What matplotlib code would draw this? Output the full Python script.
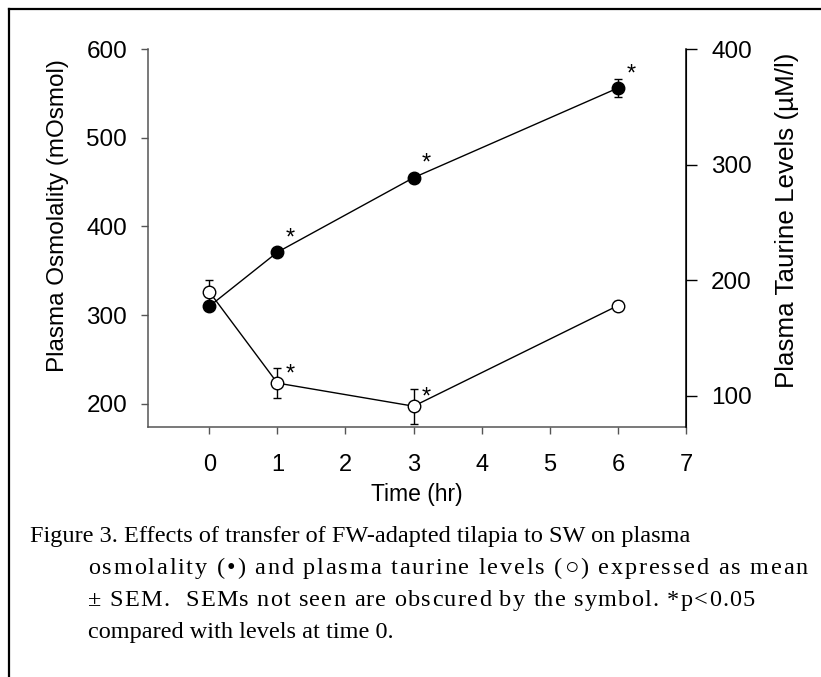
import matplotlib
matplotlib.use("Agg")
import matplotlib.pyplot as plt
from matplotlib import font_manager
from matplotlib.ft2font import FT2Font
from matplotlib.lines import Line2D

# time after transfer (hr)
time_hr = [0, 1, 3, 6]

# plasma osmolality (mOsmol), mean and SEM
osmo_mean = [310, 371, 455, 556]
osmo_sem = [4, 4, 4, 10]
osmo_sig = [False, True, True, True]

# plasma taurine (uM/l), mean and SEM
taurine_mean = [190, 111, 91, 178]
taurine_sem = [10, 13, 15, 4]
taurine_sig = [False, True, True, False]

x_ticks = [0, 1, 2, 3, 4, 5, 6, 7]
left_ticks = [200, 300, 400, 500, 600]
right_ticks = [100, 200, 300, 400]

caption = [
    "Figure 3. Effects of transfer of FW-adapted tilapia to SW on plasma",
    "osmolality (\u2022) and plasma taurine levels (\u25cb) expressed as mean",
    "\u00b1 SEM.  SEMs not seen are obscured by the symbol. *p<0.05",
    "compared with levels at time 0.",
]

plt.rcParams["font.family"] = ["Liberation Sans", "DejaVu Sans"]

W, H = 821, 677
fig = plt.figure(figsize=(W / 100, H / 100), dpi=100)

# axes box in pixels: left 148, right 686, top 49, bottom 427
ax = fig.add_axes([148 / W, 1 - 427 / H, (686 - 148) / W, (427 - 49) / H])
ax2 = ax.twinx()

ax.errorbar(time_hr, osmo_mean, yerr=osmo_sem, color="black", lw=1,
            marker="o", ms=9, mfc="black", mec="black", capsize=3,
            elinewidth=1, capthick=1)
ax2.errorbar(time_hr, taurine_mean, yerr=taurine_sem, color="black", lw=1,
             marker="o", ms=9, mfc="white", mec="black", mew=1, capsize=3,
             elinewidth=1, capthick=1)

for t, v, s in zip(time_hr, osmo_mean, osmo_sig):
    if s:
        ax.annotate("*", (t, v), xytext=(6, 2), textcoords="offset points",
                    fontsize=17, ha="left", va="bottom")
for t, v, s in zip(time_hr, taurine_mean, taurine_sig):
    if s:
        ax2.annotate("*", (t, v), xytext=(6, -2), textcoords="offset points",
                     fontsize=17, ha="left", va="bottom")

ax.set_xlim(-0.9, 7)
ax.set_ylim(174, 600)
ax2.set_ylim(73, 400)
ax.set_xticks(x_ticks)
ax.set_yticks(left_ticks)
ax2.set_yticks(right_ticks)

ax.spines["top"].set_visible(False)
ax2.spines["top"].set_visible(False)
ax2.spines["left"].set_visible(False)
ax2.spines["bottom"].set_visible(False)
for side in ("left", "bottom"):
    ax.spines[side].set_color("#555555")
    ax.spines[side].set_linewidth(1.1)
ax2.spines["right"].set_linewidth(1.1)

ax.tick_params(axis="y", direction="out", length=5, width=1,
               color="#555555", labelsize=17.5, pad=10)
ax.tick_params(axis="x", direction="out", length=5, width=1,
               color="#555555", labelsize=17, pad=14.5)
ax2.tick_params(axis="y", direction="out", length=8, width=1,
                labelsize=17.5, pad=10)

ax.set_xlabel("Time (hr)", fontsize=16.5, labelpad=5)

# y labels placed by pixel centre
fig.text(58 / W, 1 - 216 / H, "Plasma Osmolality (mOsmol)", fontsize=17.5,
         rotation=90, ha="center", va="center")
fig.text(787 / W, 1 - 220 / H, "Plasma Taurine Levels (\u00b5M/l)",
         fontsize=18.7, rotation=90, ha="center", va="center")

# caption below the plot
serif = ["Liberation Serif", "DejaVu Sans"]
cap_size = 17.5
font_paths = [font_manager.findfont(name) for name in serif]


def advance(ch):
    # horizontal advance of one character in pixels, with font fallback
    for path in font_paths:
        f = FT2Font(path)
        if f.get_char_index(ord(ch)) == 0 and path != font_paths[-1]:
            continue
        f.set_size(cap_size, 100)
        return f.load_char(ord(ch)).linearHoriAdvance / 65536


base0 = 542
line_left = [30, 88, 88, 88]
line_right = [None, 808, 755, None]
for i, line in enumerate(caption):
    ypos = 1 - (base0 + 32 * i) / H
    if line_right[i] is None:
        fig.text(line_left[i] / W, ypos, line, fontsize=cap_size,
                 family=serif, ha="left", va="baseline")
        continue
    # wider lines: letter-spaced one character at a time
    adv = [advance(c) for c in line]
    track = (line_right[i] - line_left[i] - sum(adv)) / (len(line) - 1)
    xpx = line_left[i]
    for c, a in zip(line, adv):
        if c != " ":
            fig.text(xpx / W, ypos, c, fontsize=cap_size, family=serif,
                     ha="left", va="baseline")
        xpx += a + track

# frame on the left and top edges
fig.add_artist(Line2D([9 / W, 9 / W], [0, 1 - 9 / H], color="black",
                      lw=1.6, transform=fig.transFigure))
fig.add_artist(Line2D([9 / W, 1], [1 - 9 / H, 1 - 9 / H], color="black",
                      lw=1.6, transform=fig.transFigure))

fig.savefig("out.png", dpi=100)
